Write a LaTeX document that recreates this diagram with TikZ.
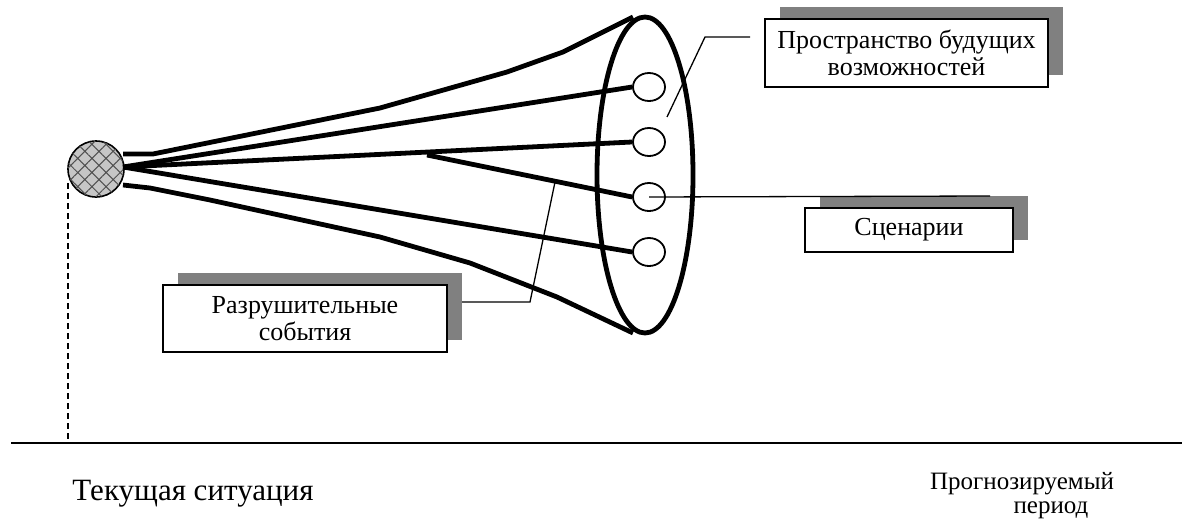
\documentclass[tikz,border=0pt]{standalone}
\usepackage{fontspec}
\setmainfont{Liberation Serif}
\usetikzlibrary{shapes.geometric,patterns.meta,shadows}
\definecolor{shgray}{HTML}{808080}
\definecolor{hatchgray}{HTML}{505050}
\begin{document}
\begin{tikzpicture}[x=1pt,y=-1pt,
  thickline/.style={line width=4.8pt, line join=round},
  thinline/.style={line width=1.3pt},
  txt/.style={font=\fontsize{25}{27}\selectfont, align=center, inner sep=0pt},
  callbox/.style={txt, font=\fontsize{26}{27}\selectfont, draw, line width=1.3pt, fill=white,
    general shadow={fill=shgray, shadow xshift=15pt, shadow yshift=12pt}},
  smallc/.style={ellipse, draw, line width=1.8pt, fill=white, minimum width=32pt, minimum height=28pt, inner sep=0pt}]
\useasboundingbox (0,0) rectangle (1182,519);

% time axis
\coordinate (axL) at (11,443);
\coordinate (axR) at (1182,443);
\draw[line width=2pt] (axL) -- (axR);

% current situation
\node[circle, draw, line width=1.6pt, minimum size=56pt, inner sep=0pt, fill=gray!45,
  postaction={pattern={Hatch[angle=45,distance=10pt,line width=1pt]}, pattern color=hatchgray}] (cur) at (96,169) {};
\coordinate (dtop) at (68,183);
\coordinate (dbot) at (68,443);
\draw[line width=1.3pt, dash pattern=on 6pt off 4pt] (dtop) -- (dbot);

% space of future possibilities
\node[ellipse, draw, line width=4.8pt, minimum width=96pt, minimum height=316pt, inner sep=0pt] (space) at (645,175) {};

% scenarios
\node[smallc] (s1) at (649,87) {};
\node[smallc] (s2) at (649,142) {};
\node[smallc] (s3) at (649,197) {};
\node[smallc] (s4) at (649,252) {};

% fan lines
\coordinate (oa) at (123,154);
\coordinate (ob) at (123,167);
\coordinate (oe) at (123,185);
\coordinate (etop) at (633,17);
\coordinate (ebot) at (633,333);
\coordinate (br) at (427,155);
\draw[thickline] (oa) -- (153,154) -- (380,108) -- (507,72) -- (563,52) -- (etop);
\draw[thickline] (ob) -- (s1.west);
\draw[thickline] (ob) -- (s2.west);
\draw[thickline] (ob) -- (s4.west);
\draw[thickline] (br) -- (s3.west);
\draw[thickline] (oe) -- (150,188) -- (210,200) -- (380,237) -- (470,263) -- (557,297) -- (ebot);

% callout boxes
\node[callbox, minimum width=283pt, minimum height=68pt] (bspace) at (906.5,53) {Пространство будущих\\возможностей};
\node[callbox, minimum width=208pt, minimum height=44pt] (bscen) at (909,230) {Сценарии};
\node[callbox, minimum width=284pt, minimum height=67pt] (bdest) at (305,318.5) {Разрушительные\\события};

% callout lines
\coordinate (c1a) at (667,117);
\coordinate (c1b) at (705,37);
\coordinate (c1c) at (750,37);
\draw[thinline] (c1a) -- (c1b) -- (c1c);
\coordinate (c2) at (990,196);
\draw[thinline] (s3.center) -- (c2);
\coordinate (c3a) at (555,182);
\coordinate (c3b) at (530,302);
\coordinate (c3c) at (462,302);
\draw[thinline] (c3a) -- (c3b) -- (c3c);

% axis labels
\node[txt, font=\fontsize{31}{33}\selectfont] (tcur) at (193,494) {Текущая ситуация};
\node[txt] (tfut1) at (1022,484) {Прогнозируемый};
\node[txt] (tfut2) at (1051,510) {период};
\end{tikzpicture}
\end{document}
